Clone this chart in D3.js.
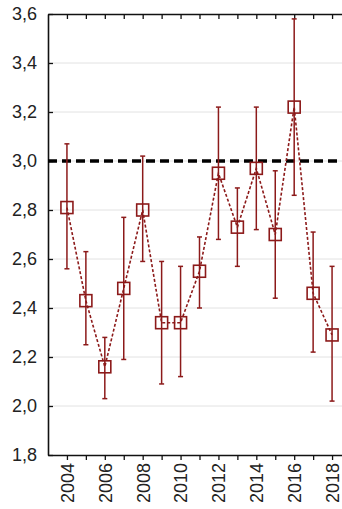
<!DOCTYPE html>
<html>
<head>
<meta charset="utf-8">
<script src="https://cdn.jsdelivr.net/npm/d3@7"></script>
<style>
  html, body { margin: 0; padding: 0; background: #fff; overflow: hidden; }
  svg { display: block; }
  text { font-family: "Liberation Sans", Arial, sans-serif; fill: #222; }
</style>
</head>
<body>
<svg id="chart" width="342" height="509"></svg>
<script>
// Yearly means with their interval bounds
const years = [2004, 2005, 2006, 2007, 2008, 2009, 2010, 2011, 2012, 2013, 2014, 2015, 2016, 2017, 2018];
const means = [2.81, 2.43, 2.16, 2.48, 2.80, 2.34, 2.34, 2.55, 2.95, 2.73, 2.97, 2.70, 3.22, 2.46, 2.29];
const lower = [2.56, 2.25, 2.03, 2.19, 2.59, 2.09, 2.12, 2.40, 2.68, 2.57, 2.72, 2.44, 2.86, 2.22, 2.02];
const upper = [3.07, 2.63, 2.28, 2.77, 3.02, 2.59, 2.57, 2.69, 3.22, 2.89, 3.22, 2.96, 3.58, 2.71, 2.57];
const yTicks = [1.8, 2.0, 2.2, 2.4, 2.6, 2.8, 3.0, 3.2, 3.4, 3.6];
const xTickLabels = [2004, 2006, 2008, 2010, 2012, 2014, 2016, 2018];
const reference = 3.0;

const svg = d3.select("#chart");
const M = { left: 48, top: 14, bottom: 455, right: 351 };
const red = "#8c1a1a";

const x = d3.scaleLinear().domain([2003, 2019]).range([M.left, M.right]);
const y = d3.scaleLinear().domain([1.8, 3.6]).range([M.bottom, M.top]);
const fmt = v => d3.format(".1f")(v).replace(".", ",");

// horizontal grid
svg.append("g").selectAll("line").data(yTicks.slice(1, -1)).join("line")
  .attr("x1", M.left).attr("x2", M.right)
  .attr("y1", d => y(d)).attr("y2", d => y(d))
  .attr("stroke", "#e2e2e2").attr("stroke-width", 1);

// axes
const yAxis = svg.append("g").attr("transform", `translate(${M.left},0)`)
  .call(d3.axisLeft(y).tickValues(yTicks).tickFormat(fmt).tickSizeInner(-5).tickSizeOuter(0).tickPadding(11));
const xAxis = svg.append("g").attr("transform", `translate(0,${M.bottom})`)
  .call(d3.axisBottom(x).tickValues(years).tickFormat(d => xTickLabels.includes(d) ? d : "").tickSizeInner(5).tickSizeOuter(0));
const xTop = svg.append("g").attr("transform", `translate(0,${M.top})`)
  .call(d3.axisTop(x).tickValues(years).tickFormat("").tickSizeInner(-5).tickSizeOuter(0));

[yAxis, xAxis, xTop].forEach(g => {
  g.select(".domain").attr("stroke", "#111").attr("stroke-width", 1.6);
  g.selectAll(".tick line").attr("stroke", "#111").attr("stroke-width", 1.3);
});
yAxis.selectAll("text").attr("font-size", 18).attr("fill", "#222");
xAxis.selectAll("text")
  .attr("font-size", 18).attr("fill", "#222")
  .attr("transform", "rotate(-90)")
  .attr("text-anchor", "end")
  .attr("x", -8).attr("y", 0).attr("dy", "0.35em");

// reference line
svg.append("line")
  .attr("x1", M.left).attr("x2", M.right)
  .attr("y1", y(reference)).attr("y2", y(reference))
  .attr("stroke", "#000").attr("stroke-width", 3.5).attr("stroke-dasharray", "9,5");

const pts = years.map((yr, i) => ({ yr, m: means[i], lo: lower[i], hi: upper[i] }));

// connecting dotted line
svg.append("path").datum(pts)
  .attr("d", d3.line().x(d => x(d.yr)).y(d => y(d.m)))
  .attr("fill", "none").attr("stroke", red).attr("stroke-width", 1.6)
  .attr("stroke-dasharray", "3,2");

// error bars
const eb = svg.append("g").attr("stroke", red).attr("stroke-width", 1.5);
eb.selectAll("line.v").data(pts).join("line").attr("class", "v")
  .attr("x1", d => x(d.yr)).attr("x2", d => x(d.yr))
  .attr("y1", d => y(d.lo)).attr("y2", d => y(d.hi));
eb.selectAll("line.cu").data(pts).join("line").attr("class", "cu")
  .attr("x1", d => x(d.yr) - 2.5).attr("x2", d => x(d.yr) + 2.5)
  .attr("y1", d => y(d.hi)).attr("y2", d => y(d.hi));
eb.selectAll("line.cl").data(pts).join("line").attr("class", "cl")
  .attr("x1", d => x(d.yr) - 2.5).attr("x2", d => x(d.yr) + 2.5)
  .attr("y1", d => y(d.lo)).attr("y2", d => y(d.lo));

// open square markers
svg.append("g").selectAll("rect").data(pts).join("rect")
  .attr("x", d => x(d.yr) - 6).attr("y", d => y(d.m) - 6)
  .attr("width", 12).attr("height", 12)
  .attr("fill", "none").attr("stroke", red).attr("stroke-width", 1.6);
</script>
</body>
</html>
